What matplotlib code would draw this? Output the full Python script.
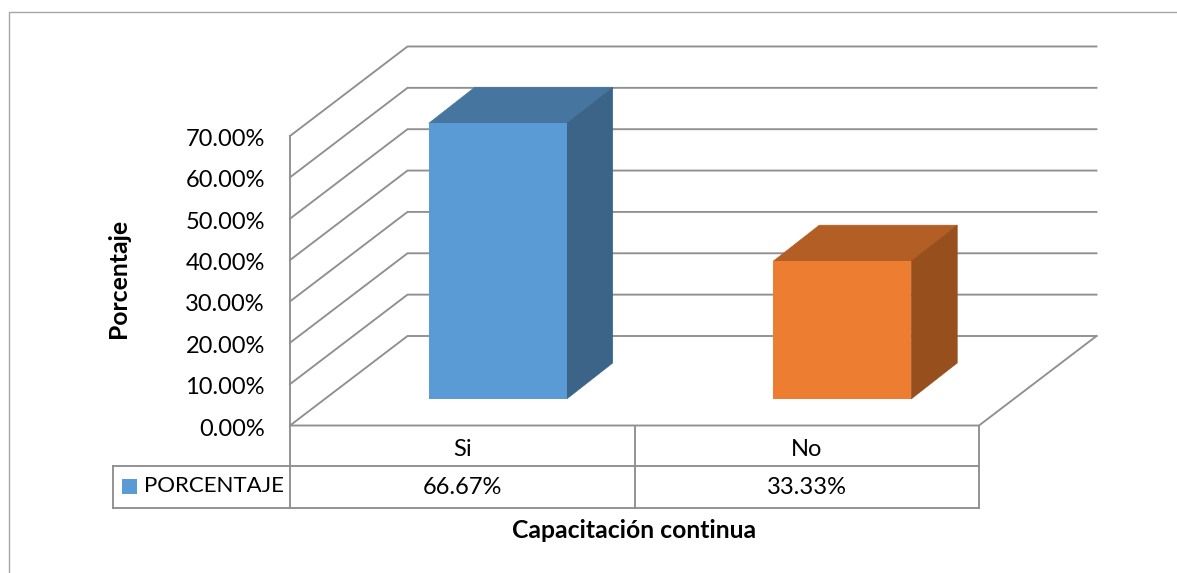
import matplotlib
matplotlib.use("Agg")
import matplotlib.pyplot as plt
from matplotlib.patches import Polygon, Rectangle

categories = ["Si", "No"]
values = [66.67, 33.33]
value_labels = ["66.67%", "33.33%"]
ticks = [0, 10, 20, 30, 40, 50, 60, 70]
tick_labels = ["0.00%", "10.00%", "20.00%", "30.00%", "40.00%", "50.00%", "60.00%", "70.00%"]
series_name = "PORCENTAJE"
x_title = "Capacitación continua"
y_title = "Porcentaje"

front_colors = ["#5B9BD5", "#ED7D31"]
top_colors = ["#4675A0", "#B35E24"]
side_colors = ["#3B6488", "#974F1D"]
line_color = "#8f8f8f"

W, H = 1177, 573
plt.rcParams["font.family"] = ["Lato", "DejaVu Sans"]
fig = plt.figure(figsize=(W / 100, H / 100), dpi=100)

# data axes cover the whole figure, scaled so the plot floor sits where it should
px_x = 344.5  # pixels per category
px_y = 4.136  # pixels per percent
x0, y0 = 290, 425.5  # pixel of category edge -0.5 and value 0
ax = fig.add_axes([0, 0, 1, 1])
ax.set_xlim(-0.5 - x0 / px_x, -0.5 + (W - x0) / px_x)
ax.set_ylim(-(H - y0) / px_y, y0 / px_y)
ax.axis("off")

# depth of the floor and of the bars, in data units
wall_dx, wall_dy = 117.5 / px_x, 89.5 / px_y
bar_dx, bar_dy = 46 / px_x, 36 / px_y
shift_x, shift_y = 35.5 / px_x, 26.5 / px_y
bar_w = 138 / px_x
xl, xr = -0.5, 1.5

# walls and gridlines
lw = 1.35
for t in ticks:
    ax.plot([xl, xl + wall_dx, xr + wall_dx], [t, t + wall_dy, t + wall_dy],
            color=line_color, lw=lw, zorder=1, solid_joinstyle="miter")
ax.plot([xl, xl], [ticks[0], ticks[-1]], color=line_color, lw=lw, zorder=1)
ax.plot([xl, xr, xr + wall_dx], [0, 0, wall_dy], color=line_color, lw=lw, zorder=1)

# bars
pos = [i + shift_x for i in range(len(values))]
ax.bar(pos, values, width=bar_w, bottom=shift_y, color=front_colors, zorder=3)
for p, v, top_c, side_c in zip(pos, values, top_colors, side_colors):
    l, r = p - bar_w / 2, p + bar_w / 2
    t = v + shift_y
    ax.add_patch(Polygon([(l, t), (r, t), (r + bar_dx, t + bar_dy), (l + bar_dx, t + bar_dy)],
                         closed=True, facecolor=top_c, edgecolor=top_c, lw=0.4, zorder=2))
    ax.add_patch(Polygon([(r, shift_y), (r + bar_dx, shift_y + bar_dy), (r + bar_dx, t + bar_dy), (r, t)],
                         closed=True, facecolor=side_c, edgecolor=side_c, lw=0.4, zorder=2))

# tick labels
fs = 17
fs_label = 16
fs_title = 17.8
for t, lab in zip(ticks, tick_labels):
    ax.text(-0.5 - 25 / px_x, t - 3.5 / px_y, lab, ha="right", va="center", fontsize=fs, color="black")

# overlay in pixels for the frame and the data table
ov = fig.add_axes([0, 0, 1, 1])
ov.set_xlim(0, W)
ov.set_ylim(H, 0)
ov.axis("off")
ov.patch.set_alpha(0)

ov.plot([8.5, 8.5, W], [H, 12, 12], color="#a6a6a6", lw=1.0)

row1, row2, row3 = 425.5, 466, 507.5
left, c0, c1, c2 = 112.5, 290, 635, 979
ov.plot([left, c2], [row2, row2], color=line_color, lw=lw)
ov.plot([left, c2], [row3, row3], color=line_color, lw=lw)
ov.plot([left, left], [row2, row3], color=line_color, lw=lw)
for c in [c0, c1, c2]:
    ov.plot([c, c], [row1, row3], color=line_color, lw=lw)

for i, (cat, vl) in enumerate(zip(categories, value_labels)):
    cx = c0 + (i + 0.5) * (c2 - c0) / 2
    ov.text(cx, 450, cat, ha="center", va="center", fontsize=fs, color="black")
    ov.text(cx, 487.5, vl, ha="center", va="center", fontsize=fs, color="black")

ov.add_patch(Rectangle((122, 479), 15, 15, facecolor=front_colors[0], edgecolor="none"))
ov.text(144, 486, series_name, ha="left", va="center", fontsize=fs_label, color="black")

ov.text(634, 531, x_title, ha="center", va="center", fontsize=fs_title, fontweight="bold", color="black")
ov.text(118, 278, y_title, ha="center", va="center", rotation=90, fontsize=fs_title, fontweight="bold", color="black")

fig.savefig("out.png", dpi=100)
